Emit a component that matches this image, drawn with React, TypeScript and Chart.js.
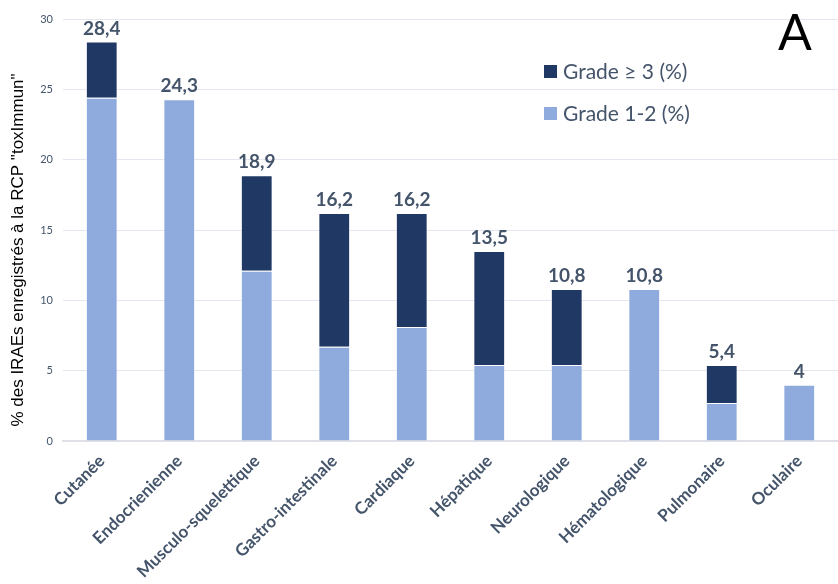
import React, { useEffect, useRef } from "react";
import { Chart, registerables } from "chart.js";

Chart.register(...registerables);

const categories = [
  "Cutanée",
  "Endocrienienne",
  "Musculo-squelettique",
  "Gastro-intestinale",
  "Cardiaque",
  "Hépatique",
  "Neurologique",
  "Hématologique",
  "Pulmonaire",
  "Oculaire",
];
const grade12 = [24.4, 24.3, 12.1, 6.7, 8.1, 5.4, 5.4, 10.8, 2.7, 4.0];
const grade3 = [4.0, 0, 6.8, 9.5, 8.1, 8.1, 5.4, 0, 2.7, 0];
const totalLabels = ["28,4", "24,3", "18,9", "16,2", "16,2", "13,5", "10,8", "10,8", "5,4", "4"];
const yTicks = [0, 5, 10, 15, 20, 25, 30];
const yTitle = '% des IRAEs enregistrés à la RCP "toxImmun"';

const LIGHT = "#8faadc";
const DARK = "#203864";
const TEXT = "#44546a";
const FONT = "Lato, 'Open Sans', sans-serif";

const overlayPlugin = {
  id: "overlay",
  afterDatasetsDraw(chart: any) {
    const ctx = chart.ctx;
    const x = chart.scales.x;
    const y = chart.scales.y;
    ctx.save();
    // total labels
    ctx.font = `bold 19px ${FONT}`;
    ctx.fillStyle = TEXT;
    ctx.textAlign = "center";
    ctx.textBaseline = "alphabetic";
    categories.forEach((_, i) => {
      const total = grade12[i] + grade3[i];
      const px = x.getPixelForValue(i);
      const py = y.getPixelForValue(total);
      ctx.fillText(totalLabels[i], px, py - 7);
    });
    // legend
    const items = [
      { label: chart.data.datasets[1].label, color: DARK, cy: 71 },
      { label: chart.data.datasets[0].label, color: LIGHT, cy: 113 },
    ];
    ctx.font = `21px ${FONT}`;
    ctx.textAlign = "left";
    ctx.textBaseline = "middle";
    items.forEach((it) => {
      ctx.fillStyle = it.color;
      ctx.fillRect(544, it.cy - 6, 13, 13);
      ctx.fillStyle = TEXT;
      ctx.fillText(it.label, 563, it.cy + 1);
    });
    // panel letter
    ctx.font = `50px ${FONT}`;
    ctx.fillStyle = "#000";
    ctx.textAlign = "center";
    ctx.textBaseline = "alphabetic";
    ctx.fillText("A", 795, 50);
    // y axis title
    ctx.translate(18, 250);
    ctx.rotate(-Math.PI / 2);
    ctx.font = `17px 'Liberation Sans', Arial, sans-serif`;
    ctx.textAlign = "center";
    ctx.textBaseline = "middle";
    ctx.fillText(yTitle, 0, 0);
    ctx.restore();
  },
};

export default function App() {
  const ref = useRef<HTMLCanvasElement>(null);
  useEffect(() => {
    if (!ref.current) return;
    const chart = new Chart(ref.current, {
      type: "bar",
      data: {
        labels: categories,
        datasets: [
          {
            label: "Grade 1-2 (%)",
            data: grade12,
            backgroundColor: LIGHT,
            borderColor: "rgba(255,255,255,0.7)",
            borderWidth: 1,
            barPercentage: 0.41,
            categoryPercentage: 1,
          },
          {
            label: "Grade ≥ 3 (%)",
            data: grade3,
            backgroundColor: DARK,
            borderColor: "rgba(255,255,255,0.7)",
            borderWidth: 1,
            barPercentage: 0.41,
            categoryPercentage: 1,
          },
        ],
      },
      options: {
        responsive: false,
        animation: false,
        layout: { padding: { top: 19, right: 0, left: 0, bottom: 0 } },
        plugins: {
          legend: { display: false },
          tooltip: { enabled: false },
        },
        scales: {
          x: {
            stacked: true,
            grid: { display: false },
            border: { display: true, color: "#e0e0e8", width: 2 },
            ticks: {
              maxRotation: 45,
              minRotation: 45,
              autoSkip: false,
              color: TEXT,
              font: { family: FONT, size: 17, weight: "bold" },
              padding: 2,
            },
            afterFit(scale: any) {
              scale.height = 143;
            },
          },
          y: {
            stacked: true,
            min: 0,
            max: 30,
            afterBuildTicks(scale: any) {
              scale.ticks = yTicks.map((v) => ({ value: v }));
            },
            grid: { color: "#e3e6ee", lineWidth: 1, drawTicks: false },
            border: { display: false },
            ticks: {
              color: TEXT,
              font: { family: FONT, size: 11 },
              padding: 10,
            },
            title: { display: false },
            afterFit(scale: any) {
              scale.width = 63;
            },
          },
        },
      },
      plugins: [overlayPlugin],
    });
    return () => chart.destroy();
  }, []);
  return (
    <div style={{ position: "fixed", left: 0, top: 0, width: 838, height: 584, background: "#fff" }}>
      <canvas ref={ref} width={838} height={584} style={{ width: 838, height: 584 }} />
    </div>
  );
}
